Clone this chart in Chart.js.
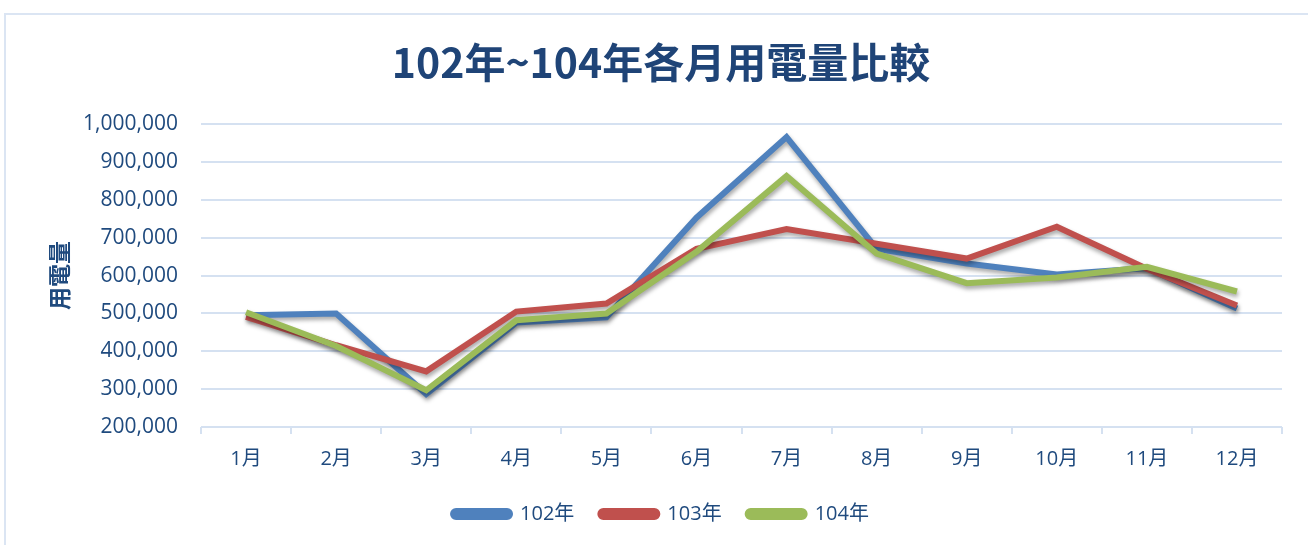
<!DOCTYPE html>
<html>
<head>
<meta charset="utf-8">
<script src="https://cdn.jsdelivr.net/npm/chart.js@4.4.1/dist/chart.umd.min.js"></script>
<style>
  body { margin: 0; background: #fff; }
  #wrap { position: relative; width: 1308px; height: 545px; }
  #frame { position: absolute; left: 4px; top: 13px; right: 0; bottom: 0; border-top: 2px solid #dbe5f3; border-left: 2px solid #dbe5f3; }
  canvas { position: absolute; left: 0; top: 0; }
</style>
</head>
<body>
<div id="wrap">
  <div id="frame"></div>
  <canvas id="chartUsage" width="1308" height="545"></canvas>
</div>
<script>
var months = ["1月","2月","3月","4月","5月","6月","7月","8月","9月","10月","11月","12月"];
var use102 = [495000, 500000, 287000, 476000, 490000, 753000, 966000, 671000, 632000, 603000, 620000, 513000];
var use103 = [491000, 416000, 347000, 505000, 526000, 671000, 723000, 684000, 645000, 729000, 618000, 521000];
var use104 = [503000, 414000, 297000, 482000, 500000, 663000, 863000, 658000, 580000, 595000, 623000, 558000];

var textColor = "#1f4a7e";
var gridColor = "#d5e1f1";
var fontFamily = "'Open Sans', 'Noto Sans CJK TC', sans-serif";

// soft drop shadow under the lines, like the original
var lineShadow = {
	id: 'lineShadow',
	beforeDatasetsDraw: function(chart) {
		var ctx = chart.ctx;
		ctx.save();
		ctx.shadowColor = 'rgba(0,0,0,0.35)';
		ctx.shadowBlur = 4;
		ctx.shadowOffsetX = 1;
		ctx.shadowOffsetY = 3;
	},
	afterDatasetsDraw: function(chart) {
		chart.ctx.restore();
	}
};

var ctx = document.getElementById("chartUsage").getContext("2d");
var chartUsage = new Chart(ctx, {
	type: 'line',
	plugins: [lineShadow],
	data: {
		labels: months,
		datasets: [{
			label: '102年',
			data: use102,
			borderColor: '#4f81bd',
			backgroundColor: '#4f81bd',
			order: 2
		}, {
			label: '103年',
			data: use103,
			borderColor: '#c0504d',
			backgroundColor: '#c0504d',
			order: 1
		}, {
			label: '104年',
			data: use104,
			borderColor: '#9bbb59',
			backgroundColor: '#9bbb59',
			order: 0
		}]
	},
	options: {
		responsive: false,
		animation: false,
		layout: {
			padding: { top: 22, right: 26, bottom: 11, left: 40 }
		},
		elements: {
			line: { borderWidth: 6, tension: 0, borderJoinStyle: 'miter', borderCapStyle: 'butt' },
			point: { radius: 0, hoverRadius: 0 }
		},
		scales: {
			x: {
				offset: true,
				grid: {
					offset: true,
					drawOnChartArea: false,
					drawTicks: true,
					tickLength: 7,
					color: gridColor,
					lineWidth: 2
				},
				border: { display: false },
				ticks: {
					color: textColor,
					padding: 13,
					maxRotation: 0,
					font: { family: fontFamily, size: 20 }
				},
				afterFit: function(scale) { scale.height = 51; }
			},
			y: {
				min: 200000,
				max: 1000000,
				grid: { color: gridColor, lineWidth: 2, drawTicks: false },
				border: { display: false },
				ticks: {
					stepSize: 100000,
					color: textColor,
					padding: 23,
					font: { family: fontFamily, size: 21 },
					callback: function(v) { return v.toLocaleString('en-US'); }
				},
				title: {
					display: true,
					text: '用電量',
					color: textColor,
					padding: { top: 5, bottom: 0 },
					font: { family: "'Noto Sans CJK TC', sans-serif", size: 23, weight: 'bold' }
				},
				afterFit: function(scale) { scale.width = 161; }
			}
		},
		plugins: {
			title: {
				display: true,
				text: '102年~104年各月用電量比較',
				color: '#1f4477',
				padding: { top: 16, bottom: 37 },
				font: { family: "'Noto Sans CJK TC', sans-serif", size: 41, weight: 'bold' }
			},
			legend: {
				position: 'bottom',
				labels: {
					color: textColor,
					boxWidth: 57,
					boxHeight: 6,
					padding: 26,
					useBorderRadius: true,
					borderRadius: 3,
					font: { family: fontFamily, size: 20 },
					sort: function(a, b) { return a.datasetIndex - b.datasetIndex; }
				}
			},
			tooltip: { enabled: false }
		}
	}
});
</script>
</body>
</html>
